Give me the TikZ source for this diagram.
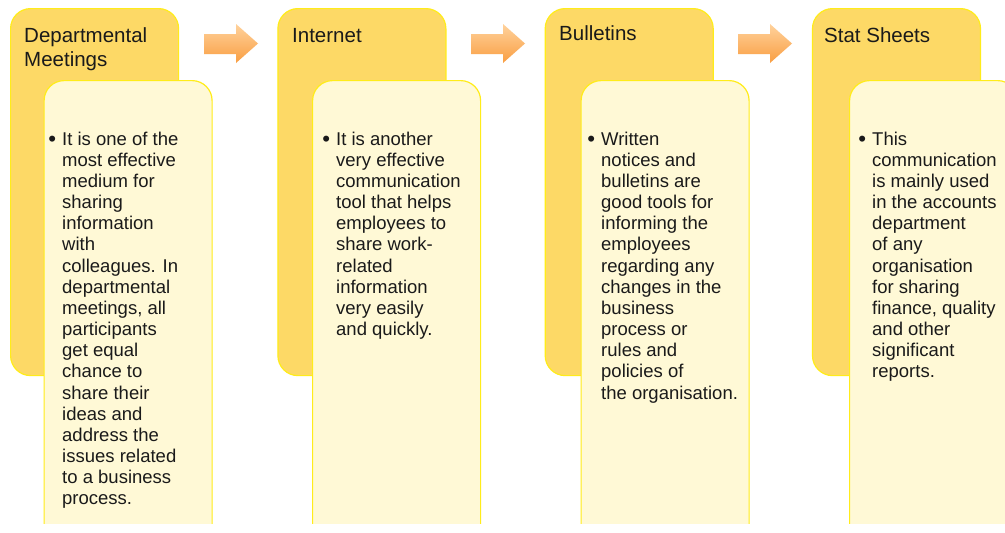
\documentclass[tikz,border=0pt]{standalone}
\usepackage{fontspec}
\setmainfont{Liberation Sans}
\definecolor{outerfill}{HTML}{FDD966}
\definecolor{boxline}{HTML}{FFEC1A}
\definecolor{innerfill}{HTML}{FFF9D6}
\definecolor{arrtop}{HTML}{FFD29C}
\definecolor{arrbot}{HTML}{F99E42}
\definecolor{ink}{HTML}{1A1A1A}
\tikzset{
  outerbox/.style={draw=boxline, line width=1.2pt, fill=outerfill, rounded corners=20pt,
    minimum width=168pt, minimum height=367pt, anchor=north west, inner sep=0pt},
  innerbox/.style={draw=boxline, line width=1.2pt, fill=innerfill, rounded corners=20pt,
    minimum width=168pt, minimum height=480pt, anchor=north west, inner sep=0pt},
  titletext/.style={anchor=north west, inner sep=0pt, align=left, text=ink,
    font=\fontsize{20.5}{24}\selectfont},
  bodytext/.style={anchor=north west, inner sep=0pt, align=left, text=ink,
    font=\fontsize{18.5}{21.15}\selectfont},
  blockarrow/.style={top color=arrtop, bottom color=arrbot, draw=none},
}
\newcommand{\bul}{\llap{\raisebox{-1.3pt}{\scalebox{1.2}{\textbullet}}\hspace{6pt}}}
\begin{document}
\begin{tikzpicture}[x=1pt,y=-1pt]
\useasboundingbox (0,0) rectangle (1005,533);
\fill[white] (0,0) rectangle (1005,533);
% outer boxes
\node[outerbox] (o1) at (10,8) {};
\node[outerbox] (o2) at (277.3,8) {};
\node[outerbox] (o3) at (544.6,8) {};
\node[outerbox] (o4) at (811.9,8) {};
% titles
\node[titletext] (t1) at (24,25.2) {\strut Departmental\\Meetings};
\node[titletext] (t2) at (292,25.2) {\strut Internet};
\node[titletext] (t3) at (559,23.2) {\strut Bulletins};
\node[titletext] (t4) at (824,25.2) {\strut Stat Sheets};
% arrows
\foreach \ax/\nm in {204/a1, 471/a2, 738/a3}{
  \path[blockarrow] (\ax,34) -- (\ax+32,34) -- (\ax+32,24) -- (\ax+54,43.5)
     -- (\ax+32,63) -- (\ax+32,54) -- (\ax,54) -- cycle;
}
% inner boxes
\begin{scope}
\clip (0,0) rectangle (1005,523);
\node[innerbox] (i1) at (43.5,80) {};
\node[innerbox] (i2) at (312,80) {};
\node[innerbox] (i3) at (580.5,80) {};
\node[innerbox] (i4) at (849,80) {};
\end{scope}
% body texts
\node[bodytext] (b1) at (62,130.2) {\strut\bul It is one of the\\most effective\\medium for\\sharing\\information\\with\\colleagues. In\\departmental\\meetings, all\\participants\\get equal\\chance to\\share their\\ideas and\\address the\\issues related\\to a business\\process.};
\node[bodytext] (b2) at (336,130.2) {\strut\bul It is another\\very effective\\communication\\tool that helps\\employees to\\share work-\\related\\information\\very easily\\and quickly.};
\node[bodytext] (b3) at (601,130.2) {\strut\bul Written\\notices and\\bulletins are\\good tools for\\informing the\\employees\\regarding any\\changes in the\\business\\process or\\rules and\\policies of\\the organisation.};
\node[bodytext] (b4) at (872,130.2) {\strut\bul This\\communication\\is mainly used\\in the accounts\\department\\of any\\organisation\\for sharing\\finance, quality\\and other\\significant\\reports.};
\end{tikzpicture}
\end{document}
